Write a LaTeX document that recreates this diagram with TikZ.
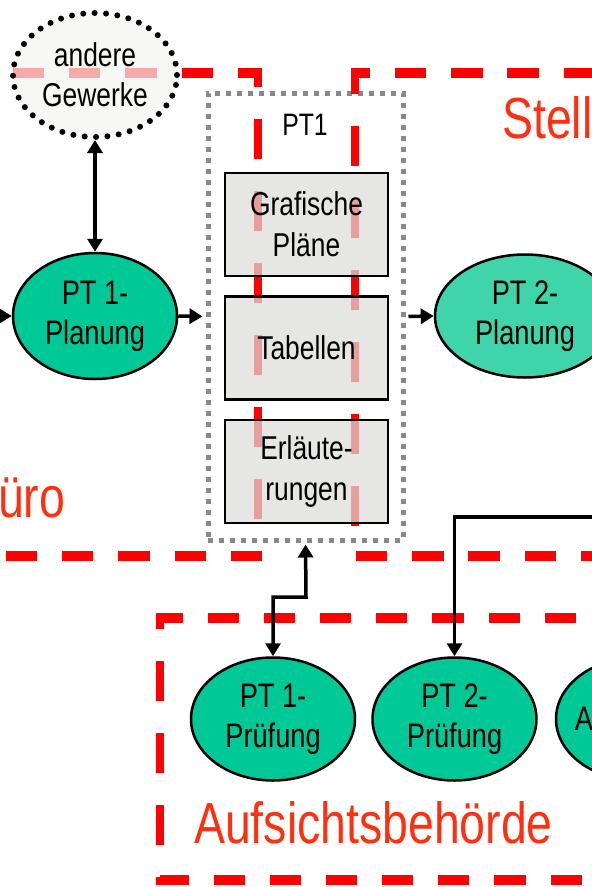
\documentclass[tikz,border=0pt]{standalone}
\usepackage{fontspec}
\setmainfont{Liberation Sans}[FakeStretch=0.8]
\usepackage{tikz}
\usetikzlibrary{arrows.meta,shapes.geometric,positioning}
\definecolor{frame}{RGB}{255,0,0}
\definecolor{frametext}{RGB}{255,48,16}
\definecolor{ptgreen}{RGB}{0,200,150}
\definecolor{ptgreenlight}{RGB}{64,212,170}
\definecolor{boxgray}{RGB}{220,222,219}
\definecolor{dotgray}{RGB}{136,136,136}
\definecolor{othergray}{RGB}{243,244,241}

\begin{document}
\begin{tikzpicture}[x=1pt,y=-1pt,>={Triangle[length=13pt,width=15pt]},
  zone/.style={draw=frame,line width=9.5pt,dash pattern=on 40pt off 32pt},
  zonelabel/.style={text=frametext,inner sep=0pt,font=\fontsize{58}{62}\selectfont},
  phasenode/.style={ellipse,draw,line width=2.5pt,fill=ptgreen,minimum width=164pt,minimum height=123pt,
    inner sep=0pt,align=center,font=\fontsize{34}{40}\selectfont},
  partbox/.style={rectangle,draw,line width=2.5pt,fill=boxgray,fill opacity=0.72,text opacity=1,
    minimum width=163pt,minimum height=103pt,align=center,font=\fontsize{33}{41}\selectfont},
  link/.style={line width=3.5pt,->}]
\useasboundingbox (0,0) rectangle (592,887);

\node[draw=dotgray,line width=5pt,dash pattern=on 5pt off 6pt,minimum width=195pt,minimum height=447pt] (pt1) at (305.5,316.5) {};
\node[font=\fontsize{31}{36}\selectfont] (pt1label) at (305,125) {PT1};

\begin{scope}[transform canvas={xscale=0.78}]
\draw[zone] (-55.2,73) -- (330.8,73) -- (330.8,556) -- (-40,556);
\draw[zone] (834.6,73) -- (455.1,73) -- (455.1,556) -- (800,556);
\draw[zone] (810.3,618) -- (205.1,618) -- (205.1,880) -- (800,880);
\end{scope}

\node[zonelabel,anchor=base west] (buero) at (-2,517) {üro};
\node[zonelabel,anchor=base west] (stelle) at (502,138) {Stell};
\node[zonelabel,anchor=base west] (aufsicht) at (194,843) {Aufsichtsbehörde};

\node[ellipse,draw,line width=6pt,dash pattern=on 0pt off 11.4pt,line cap=round,fill=othergray,fill opacity=0.7,text opacity=1,
  minimum width=164pt,minimum height=124pt,inner sep=0pt,align=center,font=\fontsize{33}{40}\selectfont] (gewerke) at (95,75) {andere\\Gewerke};
\node[phasenode,minimum height=126pt] (p1plan) at (95,316) {PT 1-\\Planung};
\node[partbox] (plaene) at (306.5,224.5) {Grafische\\Pläne};
\node[partbox,below=18pt of plaene] (tabellen) {Tabellen};
\node[partbox,below=18pt of tabellen] (erlaeut) {Erläute-\\rungen};
\node[phasenode,fill=ptgreenlight,minimum width=180pt] (p2plan) at (525,316) {PT 2-\\Planung};

\node[phasenode] (p1pruef) at (273,719) {PT 1-\\Prüfung};
\node[phasenode,right=15pt of p1pruef] (p2pruef) {PT 2-\\Prüfung};
\node[phasenode,right=17pt of p2pruef] (p3pruef) {};
\node[font=\fontsize{34}{40}\selectfont,inner sep=0pt,anchor=west] (p3text) at ([xshift=20pt]p3pruef.west) {A};

\coordinate (fromleft) at (-30,316);
\coordinate (fromright) at (620,517);
\coordinate (jog) at (306,597);

\draw[link] (fromleft) -- (p1plan.west);
\draw[link,<->] (gewerke.south) -- (p1plan.north);
\draw[link,shorten >=3pt] (p1plan.east) -- (pt1.west);
\draw[link,shorten <=3pt] (pt1.east) -- (p2plan.west);
\draw[link,<->,shorten >=2pt] (p1pruef.north) |- (jog) -- (pt1.south);
\draw[link] (fromright) -| (p2pruef.north);
\end{tikzpicture}
\end{document}
